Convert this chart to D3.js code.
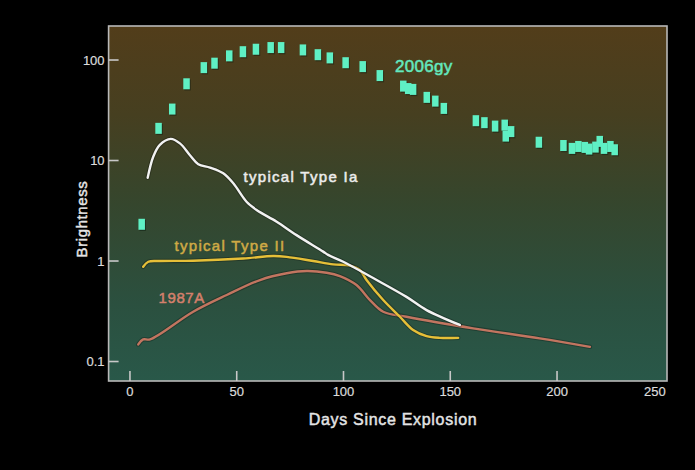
<!DOCTYPE html>
<html>
<head>
<meta charset="utf-8">
<script src="https://cdn.jsdelivr.net/npm/d3@7"></script>
<style>
  html, body { margin: 0; padding: 0; background: #000; }
  svg { display: block; }
  text { font-family: "Liberation Sans", Arial, Helvetica, sans-serif; }
</style>
</head>
<body>
<svg id="chart" width="695" height="470"></svg>
<script>
// ---- Data ----
const gyDays   = [5.5, 13.4, 19.8, 26.5, 34.6, 39.6, 46.5, 52.9, 59, 65.9, 70.8, 81, 88, 93.6, 101, 109, 117, 128, 130.3, 132.6, 139, 143, 147, 162, 166, 171, 175.5, 176, 178.5, 191.5, 203, 207, 210, 213, 215, 218, 220, 222, 225, 227];
const gyBright = [2.32, 20.9, 32.5, 58, 84, 93, 110, 121, 128, 133, 133, 126, 113, 105, 94, 86, 70, 55, 52, 51, 42.5, 39, 33, 24.9, 23.8, 22, 22.5, 17.5, 19.4, 15.2, 14.1, 13.2, 13.8, 13.5, 13.0, 13.6, 15.5, 13.2, 13.8, 12.8];

const iaDays   = [8.3, 10.9, 14.0, 19.1, 23.4, 28.1, 32.0, 37.5, 43.7, 48.4, 54.6, 59.3, 68.7, 78.0, 90.5, 92.8, 99.9, 113.9, 129.5, 138.9, 154.5];
const iaBright = [6.74, 10.9, 14.3, 16.4, 14.8, 11.3, 9.2, 8.5, 7.46, 5.93, 3.89, 3.22, 2.46, 1.81, 1.24, 1.15, 0.984, 0.677, 0.44, 0.325, 0.231];

const iiDays   = [6.2, 8.6, 14, 29.6, 53, 67.1, 73.4, 85.8, 95.2, 103, 107.7, 110.8, 118.6, 126.4, 132.6, 138.9, 145.1, 153.7];
const iiBright = [0.877, 0.984, 1.0, 1.007, 1.06, 1.12, 1.10, 1.0, 0.927, 0.90, 0.814, 0.647, 0.409, 0.279, 0.206, 0.179, 0.172, 0.172];

const snDays   = [3.9, 6.2, 9.4, 29.6, 45.3, 60.9, 73.4, 82.8, 92.1, 98.3, 106.1, 112.4, 118.6, 129.5, 160.7, 191.9, 215.4];
const snBright = [0.148, 0.166, 0.166, 0.313, 0.459, 0.647, 0.755, 0.795, 0.765, 0.709, 0.577, 0.409, 0.313, 0.279, 0.214, 0.170, 0.140];

const xTicks = [0, 50, 100, 150, 200, 250];
const yTicks = [0.1, 1, 10, 100];
const yTickLabels = ["0.1", "1", "10", "100"];

// ---- Layout ----
const svg = d3.select("#chart");
const pL = 108.6, pR = 667, pT = 26, pB = 381;
const x = d3.scaleLinear().domain([-10, 251.5]).range([pL, pR]);
const y = d3.scaleLog().domain([0.064, 218]).range([pB, pT]);

svg.append("rect").attr("width", 695).attr("height", 470).attr("fill", "#000");

const defs = svg.append("defs");
const grad = defs.append("linearGradient").attr("id", "bg").attr("x1", 0).attr("y1", 0).attr("x2", 0).attr("y2", 1);
[[0, "#523d1a"], [0.25, "#463f20"], [0.5, "#35462d"], [0.78, "#2b503f"], [1, "#295849"]].forEach(([o, c]) =>
  grad.append("stop").attr("offset", o).attr("stop-color", c));

svg.append("rect").attr("x", pL).attr("y", pT).attr("width", pR - pL).attr("height", pB - pT)
  .attr("fill", "url(#bg)");

// Frame
svg.append("rect").attr("x", pL).attr("y", pT).attr("width", pR - pL).attr("height", pB - pT)
  .attr("fill", "none").attr("stroke", "#b8b8b8").attr("stroke-width", 1.6);

// Ticks (inward)
const tickCol = "#c8c8c8";
svg.selectAll(".yt").data(yTicks).join("line")
  .attr("x1", pL).attr("x2", pL + 10).attr("y1", d => y(d)).attr("y2", d => y(d))
  .attr("stroke", tickCol).attr("stroke-width", 1.6);
svg.selectAll(".xt").data(xTicks.filter(d => d < 250)).join("line")
  .attr("x1", d => x(d)).attr("x2", d => x(d)).attr("y1", pB).attr("y2", pB - 10)
  .attr("stroke", tickCol).attr("stroke-width", 1.6);

svg.selectAll(".ytl").data(yTicks).join("text")
  .attr("x", pL - 4).attr("y", d => y(d) + 4.5).attr("text-anchor", "end")
  .attr("fill", "#dcdcdc").attr("stroke", "#dcdcdc").attr("stroke-width", 0.2)
  .attr("font-size", 13).text((d, i) => yTickLabels[i]);
svg.selectAll(".xtl").data(xTicks).join("text")
  .attr("x", d => d === 250 ? x(d) + 2 : x(d)).attr("y", 396)
  .attr("text-anchor", d => d === 250 ? "end" : "middle")
  .attr("fill", "#dcdcdc").attr("stroke", "#dcdcdc").attr("stroke-width", 0.2)
  .attr("font-size", 13).text(d => d);

// Axis titles
svg.append("text").attr("x", 393).attr("y", 425).attr("text-anchor", "middle")
  .attr("fill", "#e4e4e4").attr("stroke", "#e4e4e4").attr("stroke-width", 0.45)
  .attr("font-size", 16).attr("letter-spacing", 0.7).text("Days Since Explosion");
svg.append("text").attr("transform", "translate(87,219) rotate(-90)").attr("text-anchor", "middle")
  .attr("fill", "#e4e4e4").attr("stroke", "#e4e4e4").attr("stroke-width", 0.45)
  .attr("font-size", 15).attr("letter-spacing", 0.6).text("Brightness");

// Curves
const line = d3.line().x(d => x(d[0])).y(d => y(d[1])).curve(d3.curveCatmullRom.alpha(0.5));
function drawCurve(days, vals, color) {
  const pts = days.map((d, i) => [d, vals[i]]);
  svg.append("path").attr("d", line(pts)).attr("fill", "none")
    .attr("stroke", "#000").attr("stroke-opacity", 0.25).attr("stroke-width", 4.5)
    .attr("stroke-linecap", "round").attr("stroke-linejoin", "round");
  svg.append("path").attr("d", line(pts)).attr("fill", "none")
    .attr("stroke", color).attr("stroke-width", 2.4)
    .attr("stroke-linecap", "round").attr("stroke-linejoin", "round");
}
drawCurve(snDays, snBright, "#c27560");
drawCurve(iiDays, iiBright, "#e6bf38");
drawCurve(iaDays, iaBright, "#f2f2f2");

// 2006gy squares
const gy = gyDays.map((d, i) => [d, gyBright[i]]);
const sw = 6.5, sh = 11;
svg.selectAll(".gys").data(gy).join("rect")
  .attr("x", d => x(d[0]) - sw / 2 + 1).attr("y", d => y(d[1]) - sh / 2 + 1.2)
  .attr("width", sw).attr("height", sh).attr("fill", "#0a1a10").attr("opacity", 0.45);
svg.selectAll(".gyp").data(gy).join("rect")
  .attr("x", d => x(d[0]) - sw / 2).attr("y", d => y(d[1]) - sh / 2)
  .attr("width", sw).attr("height", sh).attr("fill", "#5ff0c4");

// Labels
function label(txt, px, py, col, size, ls) {
  svg.append("text").attr("x", px).attr("y", py).attr("fill", col)
    .attr("stroke", col).attr("stroke-width", 0.5)
    .attr("font-size", size).attr("letter-spacing", ls).text(txt);
}
label("2006gy", 395, 71.5, "#63e8bf", 17, 0.3);
label("typical Type Ia", 243.5, 181.5, "#ececec", 15, 1.3);
label("typical Type II", 174.5, 250.5, "#cfaa45", 15, 1.3);
label("1987A", 158.5, 302.5, "#d4806c", 15, 0.6);
</script>
</body>
</html>
